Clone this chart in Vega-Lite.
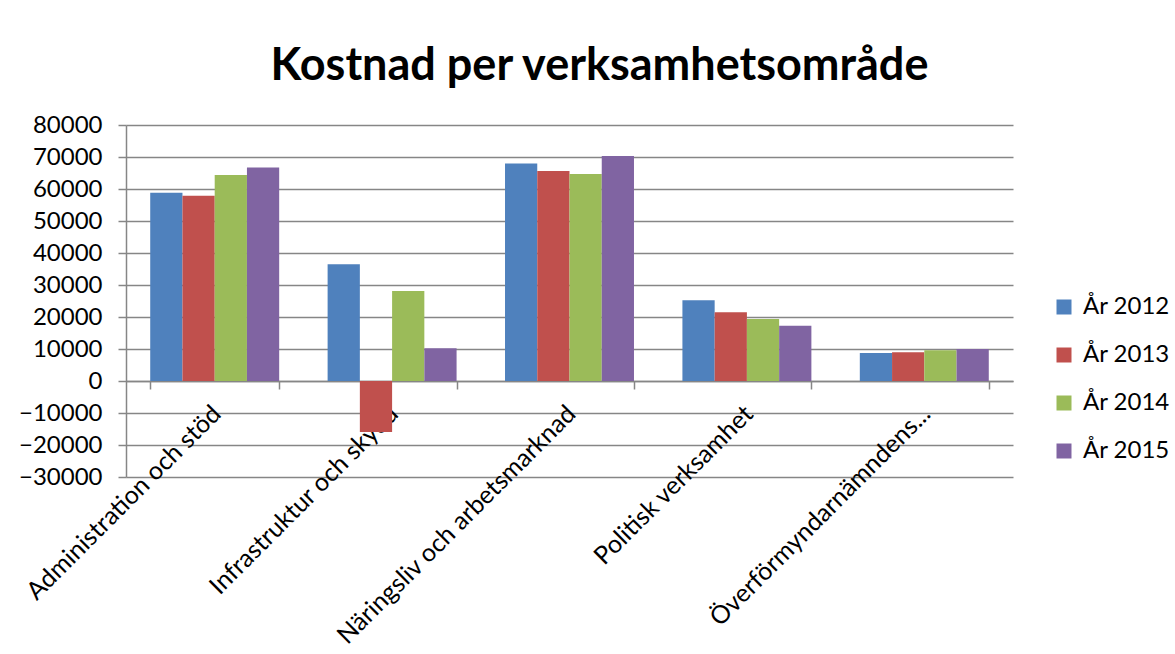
{
  "$schema": "https://vega.github.io/schema/vega-lite/v6.json",
  "width": 887,
  "height": 352,
  "autosize": {"type": "none"},
  "padding": {"left": 126, "top": 125, "right": 162, "bottom": 177},
  "background": "white",
  "title": {
    "text": "Kostnad per verksamhetsområde",
    "font": "Lato",
    "fontSize": 45,
    "fontWeight": "bold",
    "color": "#000000",
    "anchor": "middle",
    "baseline": "bottom",
    "offset": 34,
    "dx": 30,
    "dy": 55
  },
  "data": {
    "values": [
      {"omrade": "Administration och stöd", "ar": "År 2012", "kostnad": 58800},
      {"omrade": "Administration och stöd", "ar": "År 2013", "kostnad": 57900},
      {"omrade": "Administration och stöd", "ar": "År 2014", "kostnad": 64400},
      {"omrade": "Administration och stöd", "ar": "År 2015", "kostnad": 66700},
      {"omrade": "Infrastruktur och skydd", "ar": "År 2012", "kostnad": 36500},
      {"omrade": "Infrastruktur och skydd", "ar": "År 2013", "kostnad": -15900},
      {"omrade": "Infrastruktur och skydd", "ar": "År 2014", "kostnad": 28100},
      {"omrade": "Infrastruktur och skydd", "ar": "År 2015", "kostnad": 10200},
      {"omrade": "Näringsliv och arbetsmarknad", "ar": "År 2012", "kostnad": 68000},
      {"omrade": "Näringsliv och arbetsmarknad", "ar": "År 2013", "kostnad": 65600},
      {"omrade": "Näringsliv och arbetsmarknad", "ar": "År 2014", "kostnad": 64700},
      {"omrade": "Näringsliv och arbetsmarknad", "ar": "År 2015", "kostnad": 70300},
      {"omrade": "Politisk verksamhet", "ar": "År 2012", "kostnad": 25200},
      {"omrade": "Politisk verksamhet", "ar": "År 2013", "kostnad": 21500},
      {"omrade": "Politisk verksamhet", "ar": "År 2014", "kostnad": 19400},
      {"omrade": "Politisk verksamhet", "ar": "År 2015", "kostnad": 17300},
      {"omrade": "Överförmyndarnämndens...", "ar": "År 2012", "kostnad": 8750},
      {"omrade": "Överförmyndarnämndens...", "ar": "År 2013", "kostnad": 8950},
      {"omrade": "Överförmyndarnämndens...", "ar": "År 2014", "kostnad": 9600},
      {"omrade": "Överförmyndarnämndens...", "ar": "År 2015", "kostnad": 10000}
    ]
  },
  "mark": {"type": "bar"},
  "encoding": {
    "x": {
      "field": "omrade",
      "type": "nominal",
      "sort": null,
      "title": null,
      "scale": {"paddingInner": 0.273, "paddingOuter": 0.1365},
      "axis": {
        "offset": -96,
        "labelAngle": -45,
        "labelAlign": "right",
        "labelBaseline": "top",
        "labelFont": "Lato",
        "labelFontSize": 25,
        "labelColor": "#000000",
        "labelPadding": 12,
        "labelOffset": -7,
        "labelLimit": 400,
        "tickBand": "extent",
        "tickSize": 8,
        "tickColor": "#868686",
        "tickWidth": 1.5,
        "domainColor": "#868686",
        "domainWidth": 1.5,
        "grid": false
      }
    },
    "xOffset": {"field": "ar", "type": "nominal", "sort": null},
    "y": {
      "field": "kostnad",
      "type": "quantitative",
      "title": null,
      "scale": {"domain": [-30000, 80000], "nice": false},
      "axis": {
        "values": [-30000, -20000, -10000, 0, 10000, 20000, 30000, 40000, 50000, 60000, 70000, 80000],
        "format": "d",
        "labelFont": "Lato",
        "labelFontSize": 24,
        "labelColor": "#000000",
        "labelPadding": 16,
        "tickSize": 8,
        "tickColor": "#868686",
        "tickWidth": 1.5,
        "domainColor": "#868686",
        "domainWidth": 1.5,
        "gridColor": "#868686",
        "gridWidth": 1.5
      }
    },
    "color": {
      "field": "ar",
      "type": "nominal",
      "title": null,
      "scale": {
        "domain": ["År 2012", "År 2013", "År 2014", "År 2015"],
        "range": ["#4F81BD", "#C0504D", "#9BBB59", "#8064A2"]
      },
      "legend": {
        "orient": "none",
        "legendX": 926,
        "legendY": 170,
        "padding": 0,
        "symbolType": "square",
        "symbolSize": 225,
        "symbolStrokeWidth": 0,
        "labelFont": "Lato",
        "labelFontSize": 24,
        "labelColor": "#000000",
        "labelOffset": 7,
        "rowPadding": 24
      }
    }
  },
  "config": {
    "view": {"stroke": null}
  }
}
